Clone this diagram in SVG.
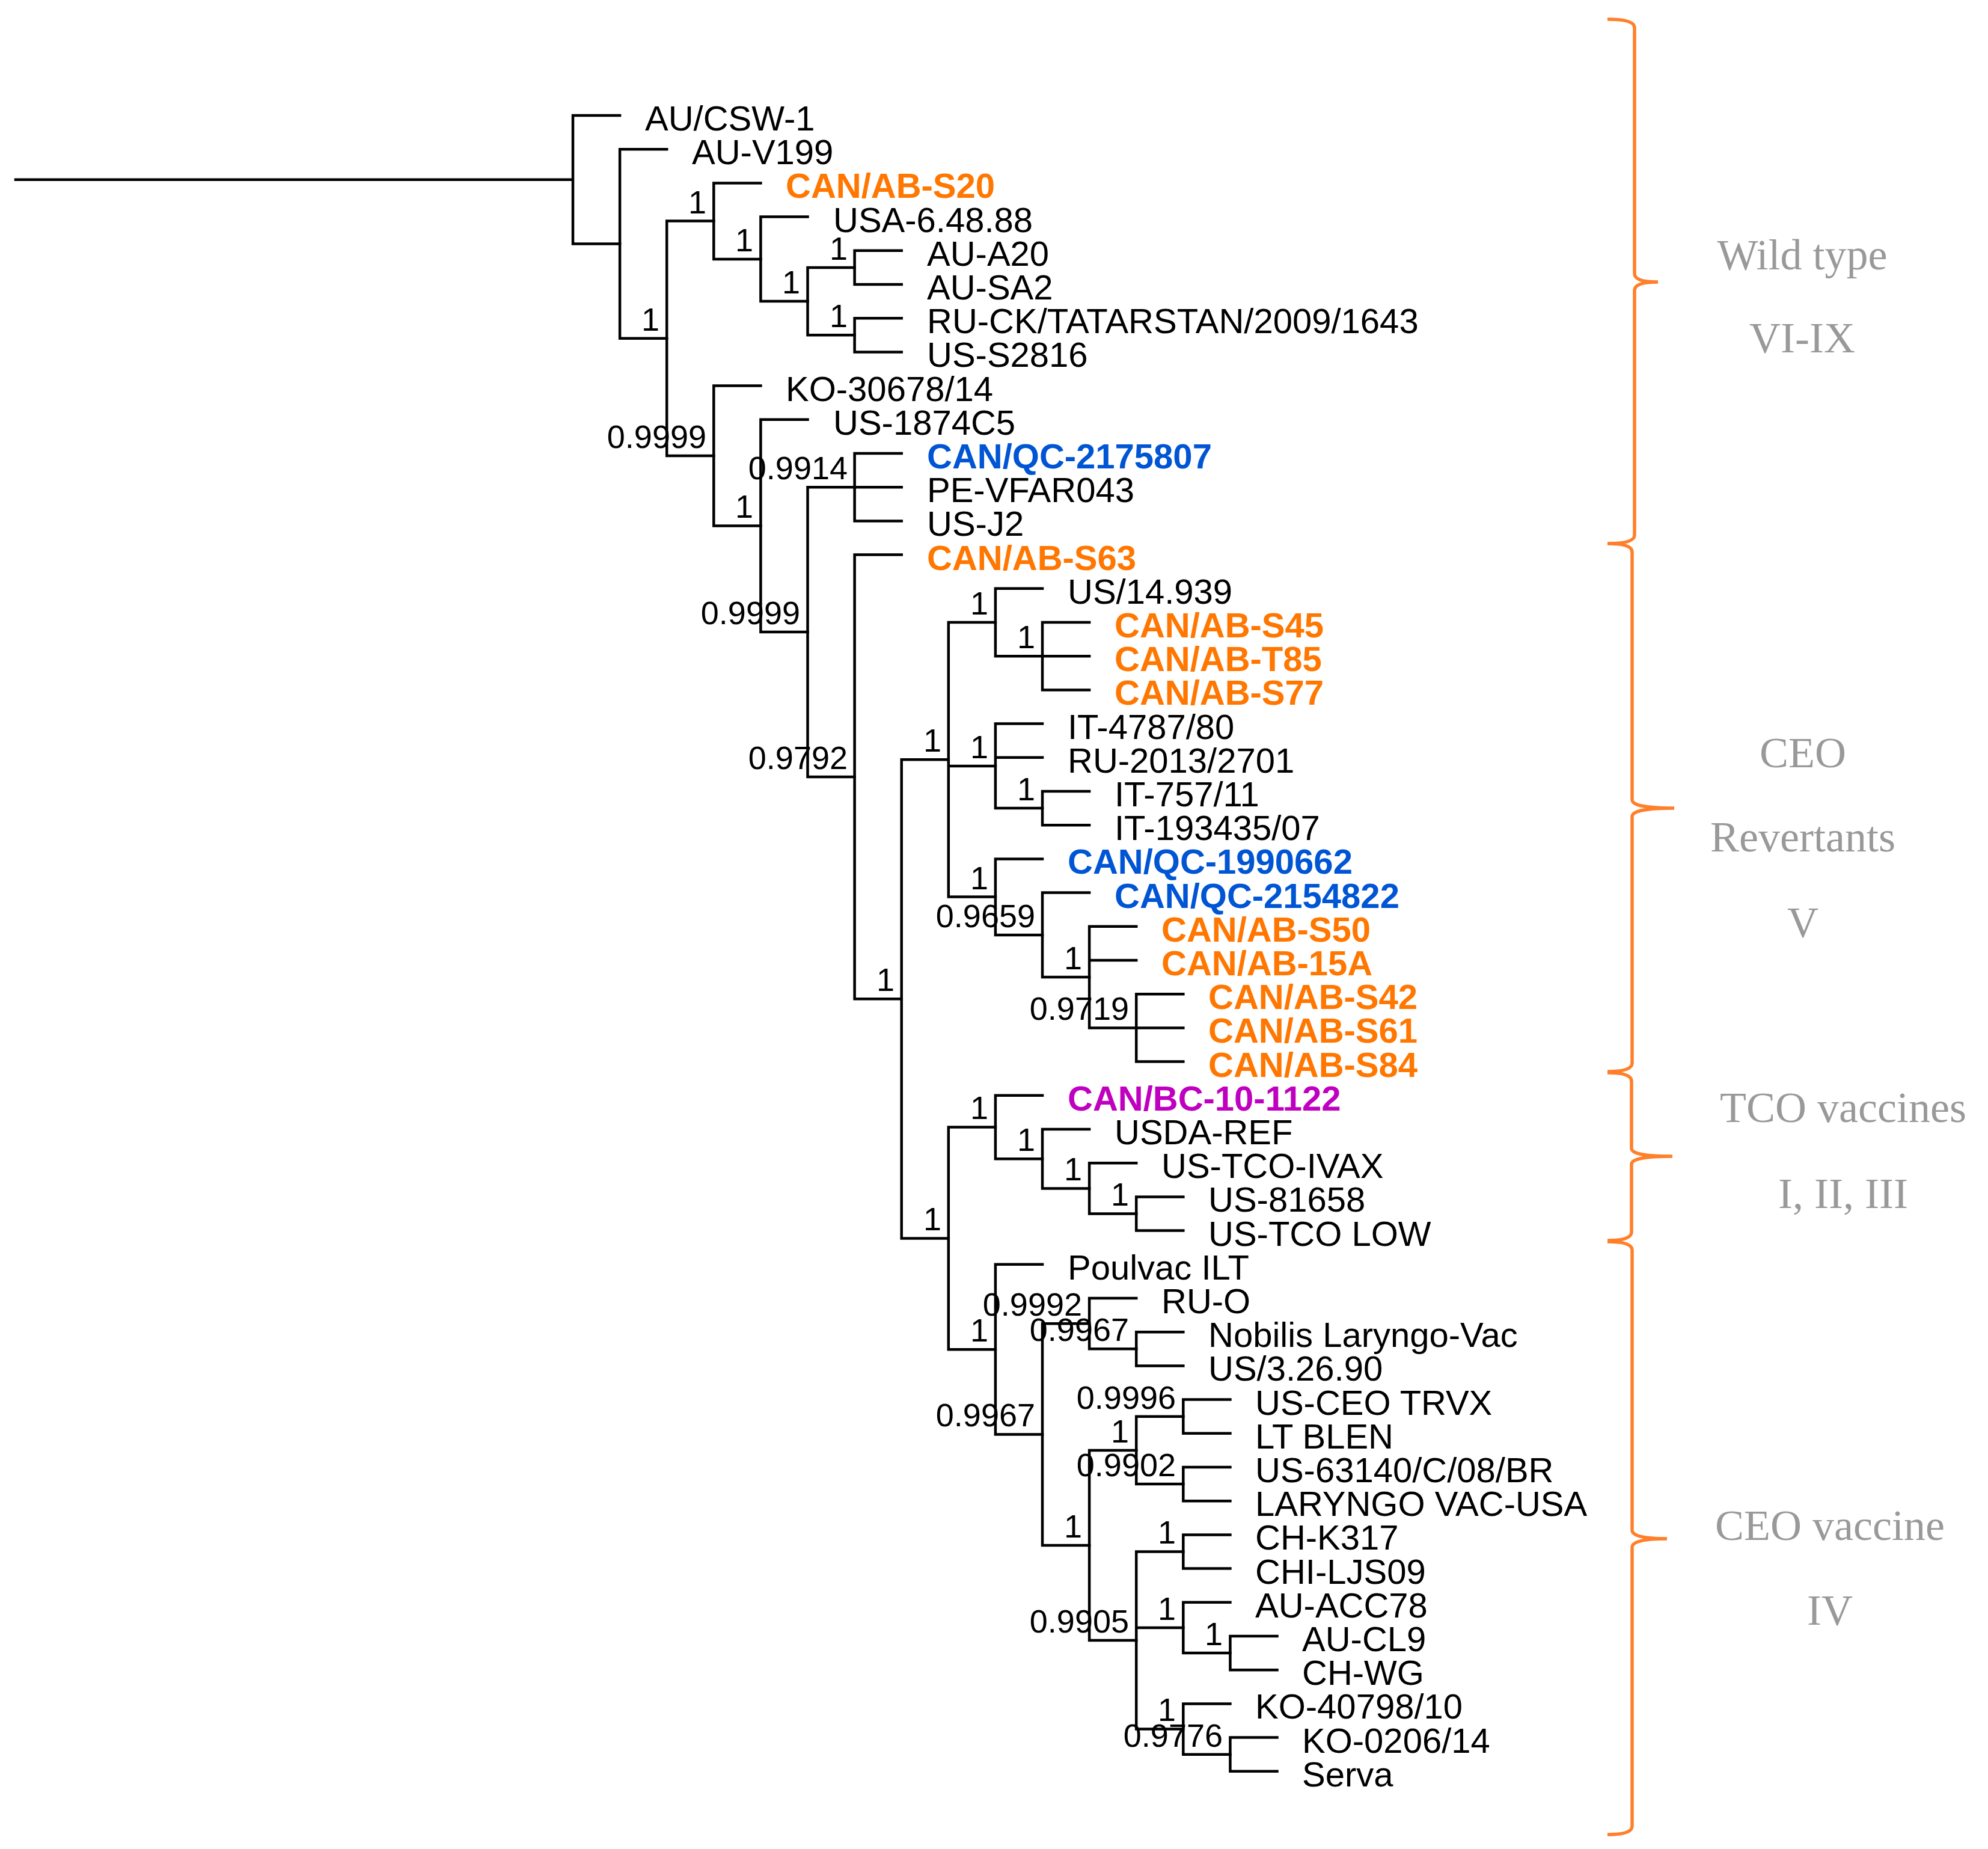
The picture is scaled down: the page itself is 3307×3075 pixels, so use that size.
<svg xmlns="http://www.w3.org/2000/svg" width="3307" height="3075" viewBox="0 0 3307 3075">
<style>
.e{stroke:#000;stroke-width:4.5;fill:none;stroke-linecap:square}
text{font-family:"Liberation Sans",Arial,sans-serif}
.lf{font-size:58px;fill:#000}
.o{font-size:58px;font-weight:bold;fill:#FF7700}
.b{font-size:58px;font-weight:bold;fill:#0055D4}
.m{font-size:58px;font-weight:bold;fill:#C000C0}
.sp{font-size:54px;fill:#000;text-anchor:end}
.br{stroke:#FF7F2A;stroke-width:5.5;fill:none}
.gl{font-family:"Liberation Serif","Times New Roman",serif;font-size:72px;fill:#999;text-anchor:middle}
</style>
<rect width="3307" height="3075" fill="#fff"/>
<g id="connectors">
<path class="e" d="M26,298.8 H953 M953,192 V405.5 M953,192 H1031.1 M953,405.5 H1031.1"/>
<path class="e" d="M1031.1,248.2 V562.8 M1031.1,248.2 H1109.2 M1031.1,562.8 H1109.2"/>
<path class="e" d="M1109.2,367.6 V758 M1109.2,367.6 H1187.3 M1109.2,758 H1187.3"/>
<path class="e" d="M1187.3,304.4 V430.9 M1187.3,304.4 H1265.4 M1187.3,430.9 H1265.4"/>
<path class="e" d="M1265.4,360.6 V501.1 M1265.4,360.6 H1343.5 M1265.4,501.1 H1343.5"/>
<path class="e" d="M1343.5,444.9 V557.3 M1343.5,444.9 H1421.6 M1343.5,557.3 H1421.6"/>
<path class="e" d="M1421.6,416.8 V473 M1421.6,416.8 H1499.7 M1421.6,473 H1499.7"/>
<path class="e" d="M1421.6,529.2 V585.4 M1421.6,529.2 H1499.7 M1421.6,585.4 H1499.7"/>
<path class="e" d="M1187.3,641.6 V874.5 M1187.3,641.6 H1265.4 M1187.3,874.5 H1265.4"/>
<path class="e" d="M1265.4,697.8 V1051.1 M1265.4,697.8 H1343.5 M1265.4,1051.1 H1343.5"/>
<path class="e" d="M1343.5,810.2 V1292 M1343.5,810.2 H1421.6 M1343.5,1292 H1421.6"/>
<path class="e" d="M1421.6,754 V866.4 M1421.6,754 H1499.7 M1421.6,810.2 H1499.7 M1421.6,866.4 H1499.7"/>
<path class="e" d="M1421.6,922.6 V1661.3 M1421.6,922.6 H1499.7 M1421.6,1661.3 H1499.7"/>
<path class="e" d="M1499.7,1263.3 V2059.4 M1499.7,1263.3 H1577.8 M1499.7,2059.4 H1577.8"/>
<path class="e" d="M1577.8,1035 V1491.6 M1577.8,1035 H1655.9 M1577.8,1273.9 H1655.9 M1577.8,1491.6 H1655.9"/>
<path class="e" d="M1655.9,978.8 V1091.2 M1655.9,978.8 H1734 M1655.9,1091.2 H1734"/>
<path class="e" d="M1734,1035 V1147.4 M1734,1035 H1812.1 M1734,1091.2 H1812.1 M1734,1147.4 H1812.1"/>
<path class="e" d="M1655.9,1203.6 V1344.1 M1655.9,1203.6 H1734 M1655.9,1259.8 H1734 M1655.9,1344.1 H1734"/>
<path class="e" d="M1734,1316 V1372.2 M1734,1316 H1812.1 M1734,1372.2 H1812.1"/>
<path class="e" d="M1655.9,1428.4 V1554.9 M1655.9,1428.4 H1734 M1655.9,1554.9 H1734"/>
<path class="e" d="M1734,1484.6 V1625.1 M1734,1484.6 H1812.1 M1734,1625.1 H1812.1"/>
<path class="e" d="M1812.1,1540.8 V1709.4 M1812.1,1540.8 H1890.2 M1812.1,1597 H1890.2 M1812.1,1709.4 H1890.2"/>
<path class="e" d="M1890.2,1653.2 V1765.6 M1890.2,1653.2 H1968.3 M1890.2,1709.4 H1968.3 M1890.2,1765.6 H1968.3"/>
<path class="e" d="M1577.8,1874.5 V2244.2 M1577.8,1874.5 H1655.9 M1577.8,2244.2 H1655.9"/>
<path class="e" d="M1655.9,1821.8 V1927.2 M1655.9,1821.8 H1734 M1655.9,1927.2 H1734"/>
<path class="e" d="M1734,1878 V1976.4 M1734,1878 H1812.1 M1734,1976.4 H1812.1"/>
<path class="e" d="M1812.1,1934.2 V2018.5 M1812.1,1934.2 H1890.2 M1812.1,2018.5 H1890.2"/>
<path class="e" d="M1890.2,1990.4 V2046.6 M1890.2,1990.4 H1968.3 M1890.2,2046.6 H1968.3"/>
<path class="e" d="M1655.9,2102.8 V2385.6 M1655.9,2102.8 H1734 M1655.9,2385.6 H1734"/>
<path class="e" d="M1734,2201.2 V2570 M1734,2201.2 H1812.1 M1734,2570 H1812.1"/>
<path class="e" d="M1812.1,2159 V2243.3 M1812.1,2159 H1890.2 M1812.1,2243.3 H1890.2"/>
<path class="e" d="M1890.2,2215.2 V2271.4 M1890.2,2215.2 H1968.3 M1890.2,2271.4 H1968.3"/>
<path class="e" d="M1812.1,2411.9 V2728 M1812.1,2411.9 H1890.2 M1812.1,2728 H1890.2"/>
<path class="e" d="M1890.2,2355.7 V2468.1 M1890.2,2355.7 H1968.3 M1890.2,2468.1 H1968.3"/>
<path class="e" d="M1968.3,2327.6 V2383.8 M1968.3,2327.6 H2046.4 M1968.3,2383.8 H2046.4"/>
<path class="e" d="M1968.3,2440 V2496.2 M1968.3,2440 H2046.4 M1968.3,2496.2 H2046.4"/>
<path class="e" d="M1890.2,2580.5 V2875.6 M1890.2,2580.5 H1968.3 M1890.2,2707 H1968.3 M1890.2,2875.6 H1968.3"/>
<path class="e" d="M1968.3,2552.4 V2608.6 M1968.3,2552.4 H2046.4 M1968.3,2608.6 H2046.4"/>
<path class="e" d="M1968.3,2664.8 V2749.1 M1968.3,2664.8 H2046.4 M1968.3,2749.1 H2046.4"/>
<path class="e" d="M2046.4,2721 V2777.2 M2046.4,2721 H2124.5 M2046.4,2777.2 H2124.5"/>
<path class="e" d="M1968.3,2833.4 V2917.7 M1968.3,2833.4 H2046.4 M1968.3,2917.7 H2046.4"/>
<path class="e" d="M2046.4,2889.6 V2945.8 M2046.4,2889.6 H2124.5 M2046.4,2945.8 H2124.5"/>
</g>
<g id="support">
<text class="sp" x="1097" y="550">1</text>
<text class="sp" x="1175" y="355">1</text>
<text class="sp" x="1253" y="418">1</text>
<text class="sp" x="1331" y="488">1</text>
<text class="sp" x="1410" y="432">1</text>
<text class="sp" x="1410" y="544">1</text>
<text class="sp" x="1175" y="745">0.9999</text>
<text class="sp" x="1253" y="861">1</text>
<text class="sp" x="1331" y="1038">0.9999</text>
<text class="sp" x="1410" y="797">0.9914</text>
<text class="sp" x="1410" y="1279">0.9792</text>
<text class="sp" x="1488" y="1648">1</text>
<text class="sp" x="1566" y="1250">1</text>
<text class="sp" x="1644" y="1022">1</text>
<text class="sp" x="1722" y="1078">1</text>
<text class="sp" x="1644" y="1261">1</text>
<text class="sp" x="1722" y="1331">1</text>
<text class="sp" x="1644" y="1479">1</text>
<text class="sp" x="1722" y="1542">0.9659</text>
<text class="sp" x="1800" y="1612">1</text>
<text class="sp" x="1878" y="1696">0.9719</text>
<text class="sp" x="1566" y="2046">1</text>
<text class="sp" x="1644" y="1861">1</text>
<text class="sp" x="1722" y="1914">1</text>
<text class="sp" x="1800" y="1963">1</text>
<text class="sp" x="1878" y="2005">1</text>
<text class="sp" x="1644" y="2231">1</text>
<text class="sp" x="1722" y="2372">0.9967</text>
<text class="sp" x="1800" y="2188">0.9992</text>
<text class="sp" x="1878" y="2230">0.9967</text>
<text class="sp" x="1800" y="2557">1</text>
<text class="sp" x="1878" y="2399">1</text>
<text class="sp" x="1956" y="2343">0.9996</text>
<text class="sp" x="1956" y="2455">0.9902</text>
<text class="sp" x="1878" y="2715">0.9905</text>
<text class="sp" x="1956" y="2567">1</text>
<text class="sp" x="1956" y="2694">1</text>
<text class="sp" x="2034" y="2736">1</text>
<text class="sp" x="1956" y="2862">1</text>
<text class="sp" x="2034" y="2905">0.9776</text>
</g>
<g id="leaf1"><text class="lf" x="1073" y="217">AU/CSW-1</text></g>
<g id="leaf2"><text class="lf" x="1151" y="273.2">AU-V199</text></g>
<g id="leaf3"><text class="o" x="1307" y="329.4">CAN/AB-S20</text></g>
<g id="leaf4"><text class="lf" x="1386" y="385.6">USA-6.48.88</text></g>
<g id="leaf5"><text class="lf" x="1542" y="441.8">AU-A20</text></g>
<g id="leaf6"><text class="lf" x="1542" y="498">AU-SA2</text></g>
<g id="leaf7"><text class="lf" x="1542" y="554.2">RU-CK/TATARSTAN/2009/1643</text></g>
<g id="leaf8"><text class="lf" x="1542" y="610.4">US-S2816</text></g>
<g id="leaf9"><text class="lf" x="1307" y="666.6">KO-30678/14</text></g>
<g id="leaf10"><text class="lf" x="1386" y="722.8">US-1874C5</text></g>
<g id="leaf11"><text class="b" x="1542" y="779">CAN/QC-2175807</text></g>
<g id="leaf12"><text class="lf" x="1542" y="835.2">PE-VFAR043</text></g>
<g id="leaf13"><text class="lf" x="1542" y="891.4">US-J2</text></g>
<g id="leaf14"><text class="o" x="1542" y="947.6">CAN/AB-S63</text></g>
<g id="leaf15"><text class="lf" x="1776" y="1003.8">US/14.939</text></g>
<g id="leaf16"><text class="o" x="1854" y="1060">CAN/AB-S45</text></g>
<g id="leaf17"><text class="o" x="1854" y="1116.2">CAN/AB-T85</text></g>
<g id="leaf18"><text class="o" x="1854" y="1172.4">CAN/AB-S77</text></g>
<g id="leaf19"><text class="lf" x="1776" y="1228.6">IT-4787/80</text></g>
<g id="leaf20"><text class="lf" x="1776" y="1284.8">RU-2013/2701</text></g>
<g id="leaf21"><text class="lf" x="1854" y="1341">IT-757/11</text></g>
<g id="leaf22"><text class="lf" x="1854" y="1397.2">IT-193435/07</text></g>
<g id="leaf23"><text class="b" x="1776" y="1453.4">CAN/QC-1990662</text></g>
<g id="leaf24"><text class="b" x="1854" y="1509.6">CAN/QC-2154822</text></g>
<g id="leaf25"><text class="o" x="1932" y="1565.8">CAN/AB-S50</text></g>
<g id="leaf26"><text class="o" x="1932" y="1622">CAN/AB-15A</text></g>
<g id="leaf27"><text class="o" x="2010" y="1678.2">CAN/AB-S42</text></g>
<g id="leaf28"><text class="o" x="2010" y="1734.4">CAN/AB-S61</text></g>
<g id="leaf29"><text class="o" x="2010" y="1790.6">CAN/AB-S84</text></g>
<g id="leaf30"><text class="m" x="1776" y="1846.8">CAN/BC-10-1122</text></g>
<g id="leaf31"><text class="lf" x="1854" y="1903">USDA-REF</text></g>
<g id="leaf32"><text class="lf" x="1932" y="1959.2">US-TCO-IVAX</text></g>
<g id="leaf33"><text class="lf" x="2010" y="2015.4">US-81658</text></g>
<g id="leaf34"><text class="lf" x="2010" y="2071.6">US-TCO LOW</text></g>
<g id="leaf35"><text class="lf" x="1776" y="2127.8">Poulvac ILT</text></g>
<g id="leaf36"><text class="lf" x="1932" y="2184">RU-O</text></g>
<g id="leaf37"><text class="lf" x="2010" y="2240.2">Nobilis Laryngo-Vac</text></g>
<g id="leaf38"><text class="lf" x="2010" y="2296.4">US/3.26.90</text></g>
<g id="leaf39"><text class="lf" x="2088" y="2352.6">US-CEO TRVX</text></g>
<g id="leaf40"><text class="lf" x="2088" y="2408.8">LT BLEN</text></g>
<g id="leaf41"><text class="lf" x="2088" y="2465">US-63140/C/08/BR</text></g>
<g id="leaf42"><text class="lf" x="2088" y="2521.2">LARYNGO VAC-USA</text></g>
<g id="leaf43"><text class="lf" x="2088" y="2577.4">CH-K317</text></g>
<g id="leaf44"><text class="lf" x="2088" y="2633.6">CHI-LJS09</text></g>
<g id="leaf45"><text class="lf" x="2088" y="2689.8">AU-ACC78</text></g>
<g id="leaf46"><text class="lf" x="2166" y="2746">AU-CL9</text></g>
<g id="leaf47"><text class="lf" x="2166" y="2802.2">CH-WG</text></g>
<g id="leaf48"><text class="lf" x="2088" y="2858.4">KO-40798/10</text></g>
<g id="leaf49"><text class="lf" x="2166" y="2914.6">KO-0206/14</text></g>
<g id="leaf50"><text class="lf" x="2166" y="2970.8">Serva</text></g>
<g id="group-wild">
<path class="br" d="M2674,32 Q2719,32 2719,46 L2719,455 Q2719,469 2758,469 Q2719,469 2719,483 L2719,890 Q2719,904 2674,904"/>
<text class="gl" x="2998" y="448">Wild type</text>
<text class="gl" x="2998" y="586">VI-IX</text>
</g>
<g id="group-revertants">
<path class="br" d="M2674,904 Q2715,904 2715,918 L2715,1330 Q2715,1344 2785,1344 Q2715,1344 2715,1358 L2715,1768 Q2715,1782 2674,1782"/>
<text class="gl" x="2999" y="1276">CEO</text>
<text class="gl" x="2999" y="1416">Revertants</text>
<text class="gl" x="2999" y="1558">V</text>
</g>
<g id="group-tco">
<path class="br" d="M2674,1784 Q2714,1784 2714,1798 L2714,1910 Q2714,1923 2782,1923 Q2714,1923 2714,1936 L2714,2049 Q2714,2063 2674,2063"/>
<text class="gl" x="3066" y="1866">TCO vaccines</text>
<text class="gl" x="3066" y="2009">I, II, III</text>
</g>
<g id="group-ceo">
<path class="br" d="M2674,2065 Q2715,2065 2715,2079 L2715,2545 Q2715,2559 2773,2559 Q2715,2559 2715,2573 L2715,3037 Q2715,3051 2674,3051"/>
<text class="gl" x="3044" y="2561">CEO vaccine</text>
<text class="gl" x="3044" y="2702">IV</text>
</g>
</svg>
